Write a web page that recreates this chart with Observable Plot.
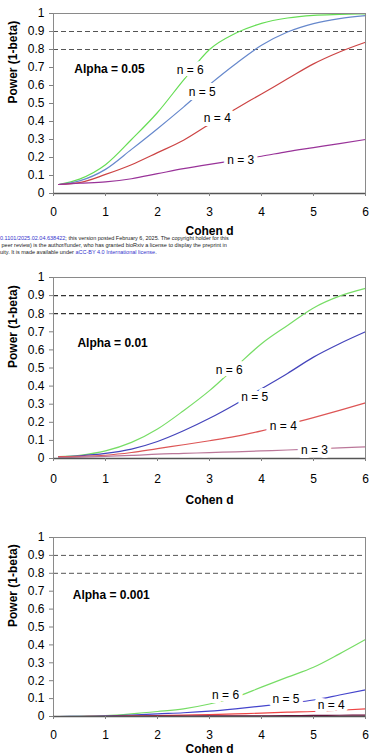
<!DOCTYPE html>
<html>
<head>
<meta charset="utf-8">
<script src="https://cdn.jsdelivr.net/npm/d3@7"></script>
<script src="https://cdn.jsdelivr.net/npm/@observablehq/plot@0.6"></script>
<style>
  html, body { margin: 0; padding: 0; background: white; }
  #wrap { position: relative; width: 383px; height: 755px; overflow: hidden; background: white; }
  .panel { position: absolute; left: 0; }
  #wm { position: absolute; left: 0; top: 235px; font-family: 'Liberation Sans', Arial, sans-serif;
        font-size: 5.5px; line-height: 7px; white-space: nowrap; color: #222; z-index: 5; }
  #wm .lk { color: #3333cc; }
</style>
</head>
<body>
<div id="wrap">
  <div class="panel" id="p1" style="top:0px"></div>
  <div class="panel" id="p2" style="top:260px"></div>
  <div class="panel" id="p3" style="top:510px"></div>
  <div id="wm">
    <div><span class="lk">0.1101/2025.02.04.638422</span>; this version posted February 6, 2025. The copyright holder for this</div>
    <div>&nbsp;peer review) is the author/funder, who has granted bioRxiv a license to display the preprint in</div>
    <div>uity. It is made available under <span class="lk">aCC-BY 4.0 International license</span>.</div>
  </div>
</div>
<script>
// ---- data ----
const cohenD = [0.1, 0.5, 1, 1.5, 2, 2.5, 3, 3.5, 4, 4.5, 5, 5.5, 6];
const seriesN = ["n = 6", "n = 5", "n = 4", "n = 3"];

// alpha = 0.05
const a05_n6 = [0.05, 0.08, 0.16, 0.30, 0.45, 0.63, 0.80, 0.89, 0.945, 0.975, 0.99, 0.995, 0.998];
const a05_n5 = [0.05, 0.07, 0.134, 0.245, 0.36, 0.48, 0.605, 0.72, 0.823, 0.897, 0.944, 0.972, 0.988];
const a05_n4 = [0.05, 0.06, 0.106, 0.16, 0.227, 0.296, 0.385, 0.47, 0.553, 0.637, 0.72, 0.786, 0.84];
const a05_n3 = [0.05, 0.057, 0.065, 0.082, 0.11, 0.138, 0.162, 0.184, 0.207, 0.233, 0.255, 0.277, 0.30];

// alpha = 0.01
const a01_n6 = [0.01, 0.018, 0.042, 0.089, 0.163, 0.264, 0.375, 0.505, 0.634, 0.735, 0.832, 0.897, 0.94];
const a01_n5 = [0.01, 0.015, 0.028, 0.052, 0.094, 0.153, 0.222, 0.30, 0.385, 0.47, 0.56, 0.634, 0.70];
const a01_n4 = [0.01, 0.012, 0.018, 0.033, 0.055, 0.076, 0.098, 0.122, 0.153, 0.188, 0.226, 0.266, 0.307];
const a01_n3 = [0.005, 0.008, 0.012, 0.017, 0.024, 0.028, 0.033, 0.037, 0.042, 0.047, 0.053, 0.059, 0.064];

// alpha = 0.001
const a001_n6 = [0, 0.001, 0.005, 0.015, 0.028, 0.043, 0.07, 0.108, 0.164, 0.22, 0.275, 0.35, 0.43];
const a001_n5 = [0, 0.001, 0.003, 0.008, 0.015, 0.021, 0.03, 0.043, 0.058, 0.074, 0.092, 0.12, 0.149];
const a001_n4 = [0, 0, 0.001, 0.003, 0.005, 0.008, 0.011, 0.015, 0.019, 0.024, 0.028, 0.035, 0.043];
const a001_n3 = [0, 0, 0, 0.001, 0.002, 0.002, 0.003, 0.004, 0.004, 0.005, 0.006, 0.007, 0.008];

// label anchors (data units)
const a05_labD = [2.63, 2.86, 3.15, 3.6];
const a05_labP = [0.683, 0.562, 0.419, 0.184];
const a01_labD = [3.38, 3.87, 4.42, 5.02];
const a01_labP = [0.486, 0.338, 0.181, 0.048];
const a001_labD = [3.31, 4.47, 5.34];
const a001_labP = [0.121, 0.095, 0.061];

const alphaLabels = ["Alpha = 0.05", "Alpha = 0.01", "Alpha = 0.001"];
const alphaD = [0.40, 0.46, 0.37];
const alphaP = [0.69, 0.638, 0.678];

const thresholds = [0.8, 0.9];
const xTicks = [0, 1, 2, 3, 4, 5, 6];
const yTicks = [0, 0.1, 0.2, 0.3, 0.4, 0.5, 0.6, 0.7, 0.8, 0.9, 1];
const xTitle = "Cohen d";
const yTitle = "Power (1-beta)";

// ---- build ----
function rowsFrom(series) {
  const rows = [];
  series.forEach((vals, i) => vals.forEach((p, j) => rows.push({n: seriesN[i], d: cohenD[j], p})));
  return rows;
}

function panel(cfg) {
  const rows = rowsFrom(cfg.series);
  const labs = cfg.labD.map((d, i) => ({d, p: cfg.labP[i], t: seriesN[i]}));
  return Plot.plot({
    width: 383,
    height: cfg.height,
    marginLeft: 53,
    marginRight: 18,
    marginTop: cfg.mt,
    marginBottom: cfg.mb,
    x: {domain: [0, 6]},
    y: {domain: [0, 1]},
    color: {domain: seriesN, range: cfg.colors},
    style: {fontFamily: "'Liberation Sans', Arial, sans-serif", fontSize: "12px", background: "white", color: "black"},
    marks: [
      Plot.ruleY(thresholds, {stroke: cfg.dashColor, strokeWidth: cfg.dashWidth, strokeDasharray: "5,3"}),
      Plot.line(rows, {x: "d", y: "p", stroke: "n", strokeWidth: 1.2, curve: "monotone-x"}),
      Plot.frame({stroke: "#8a8a8a"}),
      Plot.ruleY([0], {stroke: "#555", strokeWidth: 1.5}),
      Plot.axisY({ticks: yTicks, tickSize: 4, tickPadding: 5, stroke: "#808080", fill: "black", fontSize: 12,
                  tickFormat: v => String(+v.toFixed(1)), label: null}),
      Plot.axisX({ticks: xTicks, tickSize: 3, tickPadding: cfg.xpad, stroke: "#808080", fill: "black", fontSize: 12,
                  tickFormat: v => String(v), label: null}),
      Plot.text(labs, {x: "d", y: "p", text: "t", fill: "black", stroke: "white", strokeWidth: 8, fontSize: 12}),
      Plot.text([cfg.alpha], {x: () => cfg.alphaD, y: () => cfg.alphaP, text: t => t, textAnchor: "start",
                  fontWeight: "bold", fontSize: 12, fill: "black"}),
      Plot.text([xTitle], {frameAnchor: "bottom", lineAnchor: "top", dy: cfg.xlab, text: t => t,
                  fontWeight: "bold", fontSize: 12, fill: "black"}),
      Plot.text([yTitle], {frameAnchor: "left", rotate: -90, dx: -40.5, text: t => t,
                  fontWeight: "bold", fontSize: 12, fill: "black"})
    ]
  });
}

document.getElementById("p1").append(panel({
  height: 240, mt: 13, mb: 47, xpad: 11, xlab: 33,
  series: [a05_n6, a05_n5, a05_n4, a05_n3],
  colors: ["#66dd55", "#6688cc", "#cc4444", "#993399"],
  labD: a05_labD, labP: a05_labP,
  alpha: alphaLabels[0], alphaD: alphaD[0], alphaP: alphaP[0],
  dashColor: "#555", dashWidth: 1
}));
document.getElementById("p2").append(panel({
  height: 250, mt: 17, mb: 52, xpad: 13, xlab: 37,
  series: [a01_n6, a01_n5, a01_n4, a01_n3],
  colors: ["#77dd66", "#4444bb", "#dd5555", "#bb7799"],
  labD: a01_labD, labP: a01_labP,
  alpha: alphaLabels[1], alphaD: alphaD[1], alphaP: alphaP[1],
  dashColor: "#333", dashWidth: 1.3
}));
document.getElementById("p3").append(panel({
  height: 245, mt: 27, mb: 39, xpad: 11, xlab: 28,
  series: [a001_n6, a001_n5, a001_n4, a001_n3],
  colors: ["#77dd66", "#4444cc", "#ee4444", "#660033"],
  labD: a001_labD, labP: a001_labP,
  alpha: alphaLabels[2], alphaD: alphaD[2], alphaP: alphaP[2],
  dashColor: "#555", dashWidth: 1
}));
</script>
</body>
</html>
